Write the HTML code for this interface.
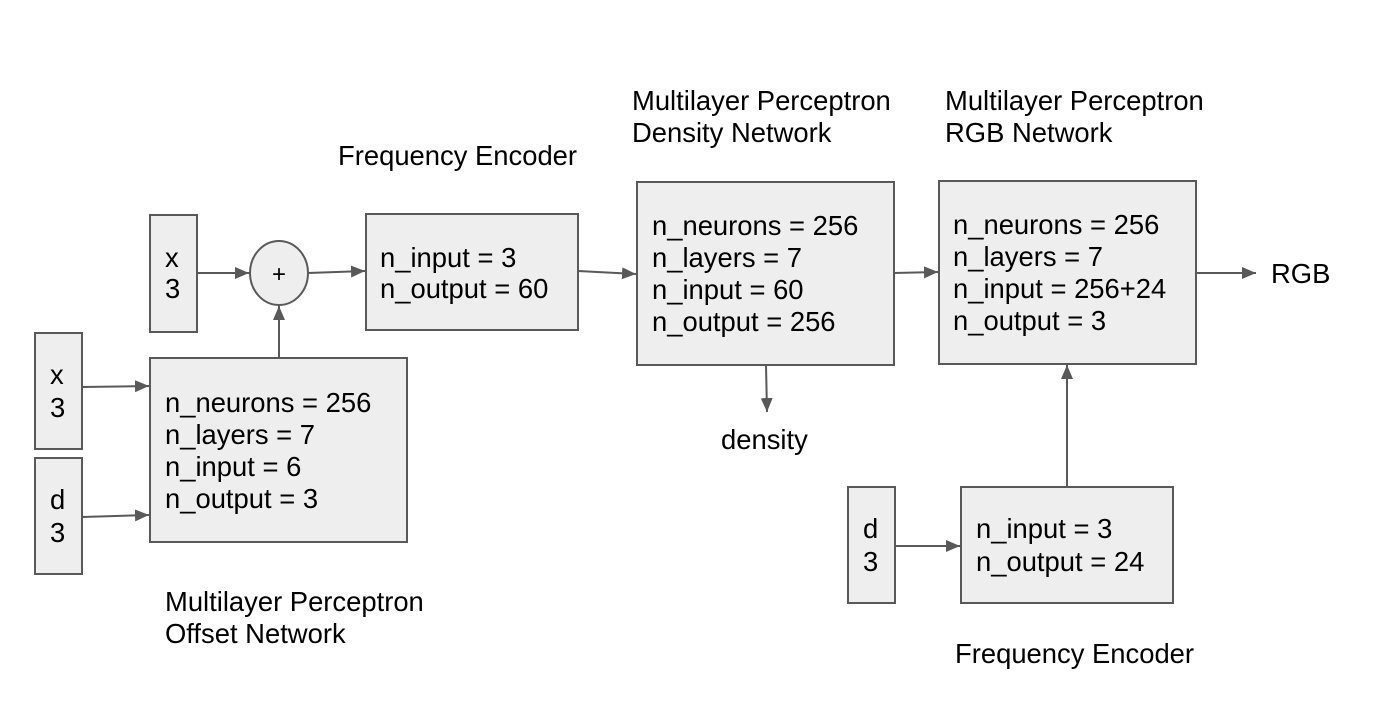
<!DOCTYPE html>
<html><head><meta charset="utf-8"><style>
html,body{margin:0;padding:0;background:#fff}
svg{display:block}
text{font-family:"Liberation Sans",Arial,sans-serif;font-size:27.4px;fill:#000}
.b{fill:#eeeeee;stroke:#595959;stroke-width:2}
.l{stroke:#595959;stroke-width:2;fill:none}
</style></head><body>
<svg width="1376" height="706" viewBox="0 0 1376 706" xmlns="http://www.w3.org/2000/svg">
<defs><marker id="a" markerWidth="14" markerHeight="12" refX="14" refY="6" orient="auto" markerUnits="userSpaceOnUse"><path d="M0,0 L14,6 L0,12 z" fill="#595959"/></marker></defs>
<rect class="b" x="150" y="215" width="47" height="117"/>
<ellipse class="b" cx="279" cy="273" rx="29" ry="32"/>
<rect class="b" x="150" y="358" width="257" height="184"/>
<rect class="b" x="35" y="333" width="47" height="116"/>
<rect class="b" x="35" y="458" width="47" height="116"/>
<rect class="b" x="366" y="214" width="212" height="116"/>
<rect class="b" x="637" y="182" width="257" height="183"/>
<rect class="b" x="939" y="181" width="257" height="183"/>
<rect class="b" x="961" y="487" width="212" height="116"/>
<rect class="b" x="848" y="487" width="47" height="116"/>
<line class="l" x1="197" y1="273" x2="249" y2="273" marker-end="url(#a)"/>
<line class="l" x1="308" y1="273" x2="365" y2="271" marker-end="url(#a)"/>
<line class="l" x1="279" y1="358" x2="279" y2="306" marker-end="url(#a)"/>
<line class="l" x1="82" y1="387" x2="149" y2="386" marker-end="url(#a)"/>
<line class="l" x1="82" y1="517" x2="149" y2="515" marker-end="url(#a)"/>
<line class="l" x1="578" y1="271" x2="636" y2="274" marker-end="url(#a)"/>
<line class="l" x1="894" y1="273" x2="938" y2="272" marker-end="url(#a)"/>
<line class="l" x1="1196" y1="273" x2="1256" y2="273" marker-end="url(#a)"/>
<line class="l" x1="766" y1="365" x2="767" y2="412" marker-end="url(#a)"/>
<line class="l" x1="895" y1="546" x2="960" y2="546" marker-end="url(#a)"/>
<line class="l" x1="1067" y1="487" x2="1067" y2="365" marker-end="url(#a)"/>
<text x="165" y="267">x</text><text x="165" y="298">3</text>
<text x="279" y="282" text-anchor="middle" style="font-size:24px">+</text>
<text x="50" y="384">x</text><text x="50" y="417">3</text>
<text x="50" y="509">d</text><text x="50" y="542">3</text>
<text x="165" y="412">n_neurons = 256</text>
<text x="165" y="444">n_layers = 7</text>
<text x="165" y="476">n_input = 6</text>
<text x="165" y="508">n_output = 3</text>
<text x="165" y="611">Multilayer Perceptron</text>
<text x="165" y="643">Offset Network</text>
<text x="338" y="165">Frequency Encoder</text>
<text x="380" y="267">n_input = 3</text>
<text x="380" y="298">n_output = 60</text>
<text x="632" y="110">Multilayer Perceptron</text>
<text x="632" y="142">Density Network</text>
<text x="652" y="235">n_neurons = 256</text>
<text x="652" y="267">n_layers = 7</text>
<text x="652" y="299">n_input = 60</text>
<text x="652" y="331">n_output = 256</text>
<text x="945" y="110">Multilayer Perceptron</text>
<text x="945" y="142">RGB Network</text>
<text x="953" y="234">n_neurons = 256</text>
<text x="953" y="266">n_layers = 7</text>
<text x="953" y="298">n_input = 256+24</text>
<text x="953" y="330">n_output = 3</text>
<text x="1271" y="283">RGB</text>
<text x="721" y="449">density</text>
<text x="863" y="538">d</text><text x="863" y="571">3</text>
<text x="976" y="538">n_input = 3</text>
<text x="976" y="571">n_output = 24</text>
<text x="955" y="663">Frequency Encoder</text>
</svg>
</body></html>
